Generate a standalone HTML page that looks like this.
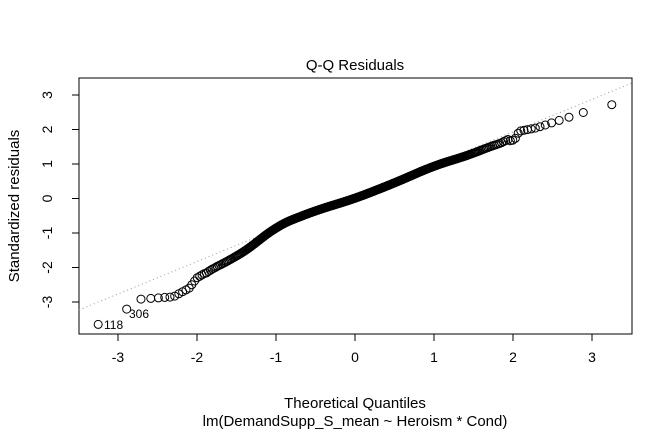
<!DOCTYPE html>
<html><head><style>body{margin:0;background:#fff}svg{display:block}text{font-family:"Liberation Sans",Arial,sans-serif;fill:#000}</style></head>
<body>
<svg id="s" width="672" height="432" xmlns="http://www.w3.org/2000/svg">
<rect x="79" y="78" width="553" height="256" fill="none" stroke="#000" stroke-width="1"/>
<text x="355" y="70" font-size="15" text-anchor="middle">Q-Q Residuals</text>
<g stroke="#000"><line x1="118" y1="334" x2="592" y2="334"/>
<line x1="118" y1="334" x2="118" y2="341"/><line x1="197" y1="334" x2="197" y2="341"/><line x1="276" y1="334" x2="276" y2="341"/><line x1="355" y1="334" x2="355" y2="341"/><line x1="434" y1="334" x2="434" y2="341"/><line x1="513" y1="334" x2="513" y2="341"/><line x1="592" y1="334" x2="592" y2="341"/>
<line x1="79" y1="95" x2="79" y2="302"/>
<line x1="72" y1="95" x2="79" y2="95"/><line x1="72" y1="129.5" x2="79" y2="129.5"/><line x1="72" y1="164" x2="79" y2="164"/><line x1="72" y1="198.5" x2="79" y2="198.5"/><line x1="72" y1="233" x2="79" y2="233"/><line x1="72" y1="267.5" x2="79" y2="267.5"/><line x1="72" y1="302" x2="79" y2="302"/></g>
<g font-size="14" text-anchor="middle">
<text x="118" y="362">-3</text><text x="197" y="362">-2</text><text x="276" y="362">-1</text><text x="355" y="362">0</text><text x="434" y="362">1</text><text x="513" y="362">2</text><text x="592" y="362">3</text>
<text transform="translate(52,95) rotate(-90)">3</text><text transform="translate(52,129.5) rotate(-90)">2</text><text transform="translate(52,164) rotate(-90)">1</text><text transform="translate(52,198.5) rotate(-90)">0</text><text transform="translate(52,233) rotate(-90)">-1</text><text transform="translate(52,267.5) rotate(-90)">-2</text><text transform="translate(52,302) rotate(-90)">-3</text>
<text transform="translate(19,206) rotate(-90)" font-size="15">Standardized residuals</text>
<text x="355" y="408" font-size="15">Theoretical Quantiles</text>
<text x="355" y="426" font-size="15">lm(DemandSupp_S_mean ~ Heroism * Cond)</text>
</g>
<line x1="79" y1="310" x2="632" y2="83" stroke="#999" stroke-dasharray="1,3"/>
<g id="pts" fill="none" stroke="#000" stroke-width="1"></g>
<text x="104" y="329" font-size="12">118</text>
<text x="129" y="318" font-size="12">306</text>
</svg>
<script>
var K=[[-3.25,-3.65],[-2.94,-3.36],[-2.8,-2.93],[-2.3,-2.85],[-2.1,-2.6],[-2,-2.3],[-1.7,-1.9],[-1.5,-1.7],[-1.2,-1.2],[-1,-0.8],[-0.5,-0.35],[0,0],[0.5,0.45],[1,0.95],[1.5,1.3],[1.8,1.6],[2.02,1.7],[2.08,1.95],[2.3,2.05],[2.5,2.2],[2.9,2.5],[3.25,2.72]];
function f0(q){if(q<=K[0][0])return K[0][1];for(var i=1;i<K.length;i++){if(q<=K[i][0]){var a=K[i-1],b=K[i];return a[1]+(b[1]-a[1])*(q-a[0])/(b[0]-a[0]);}}return K[K.length-1][1];}
function f(q){if(q<-1.9||q>1.95)return f0(q);var s=0;for(var k=-10;k<=10;k++)s+=f0(q+k*0.02);return s/21;}
function qn(p){var a=[-39.6968,220.946,-275.929,138.358,-30.6648,2.50663],b=[-54.4761,161.586,-155.699,66.8013,-13.2807],c=[-0.00778489,-0.322396,-2.40076,-2.54973,4.37466,2.93816],d=[0.00778470,0.322467,2.44513,3.75441];var q,r;if(p<0.02425){q=Math.sqrt(-2*Math.log(p));return(((((c[0]*q+c[1])*q+c[2])*q+c[3])*q+c[4])*q+c[5])/((((d[0]*q+d[1])*q+d[2])*q+d[3])*q+1);}if(p>1-0.02425){return -qn(1-p);}q=p-0.5;r=q*q;return(((((a[0]*r+a[1])*r+a[2])*r+a[3])*r+a[4])*r+a[5])*q/(((((b[0]*r+b[1])*r+b[2])*r+b[3])*r+b[4])*r+1);}
var n=500,g=document.getElementById('pts'),h='';
for(var i=1;i<=n;i++){var q=qn((i-0.5)/n);q=q*3.25/3.09;var r=f(q);h+='<circle cx="'+(355+79*q).toFixed(1)+'" cy="'+(198.5-34.5*r).toFixed(1)+'" r="4"/>';}
g.innerHTML=h;
</script>
</body></html>
